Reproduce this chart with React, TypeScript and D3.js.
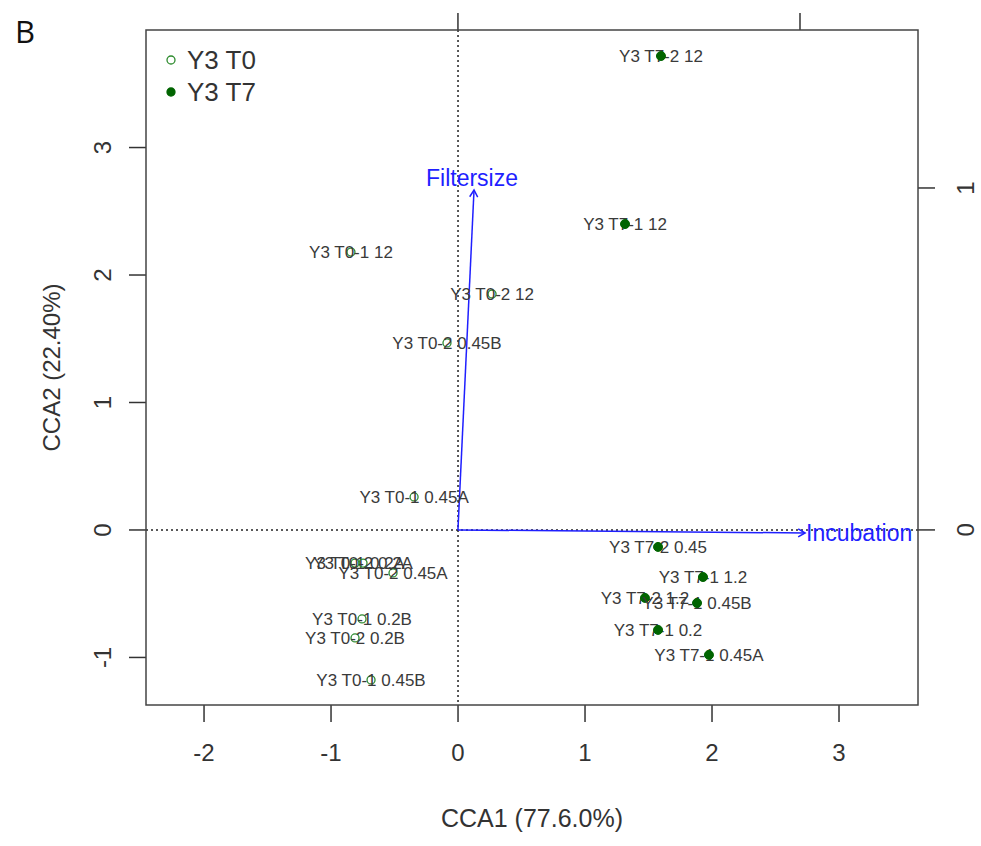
import React from "react";
import * as d3 from "d3";

const W = 981;
const H = 846;

// Sample scores (CCA1, CCA2)
const t0Labels = [
  "Y3 T0-1 12", "Y3 T0-2 12", "Y3 T0-2 0.45B", "Y3 T0-1 0.45A", "Y3 T0-1 0.2A",
  "Y3 T0-2 0.2A", "Y3 T0-2 0.45A", "Y3 T0-1 0.2B", "Y3 T0-2 0.2B", "Y3 T0-1 0.45B",
];
const t0X = [-0.843, 0.268, -0.087, -0.346, -0.811, -0.748, -0.512, -0.756, -0.811, -0.685];
const t0Y = [2.18, 1.851, 1.467, 0.259, -0.26, -0.26, -0.337, -0.698, -0.847, -1.176];

const t7Labels = [
  "Y3 T7-2 12", "Y3 T7-1 12", "Y3 T7-2 0.45", "Y3 T7-1 1.2", "Y3 T7-2 1.2",
  "Y3 T7-1 0.45B", "Y3 T7-1 0.2", "Y3 T7-1 0.45A",
];
const t7X = [1.598, 1.315, 1.575, 1.929, 1.472, 1.882, 1.575, 1.976];
const t7Y = [3.718, 2.4, -0.133, -0.369, -0.533, -0.573, -0.784, -0.98];

// Biplot arrows (right/top axis units)
const envNames = ["Filtersize", "Incubation"];
const envX = [0.047, 1.015];
const envY = [0.994, -0.009];

const xTicks = [-2, -1, 0, 1, 2, 3];
const yTicks = [-1, 0, 1, 2, 3];
const topTicks = [0, 1];
const rightTicks = [0, 1];

const legendLabels = ["Y3 T0", "Y3 T7"];

const PL = 146, PR = 918, PT = 30, PB = 705;

export default function App() {
  const x = d3.scaleLinear().domain([-2.457, 3.622]).range([PL, PR]);
  const y = d3.scaleLinear().domain([-1.373, 3.922]).range([PB, PT]);
  const xr = d3.scaleLinear().domain([-0.912, 1.345]).range([PL, PR]);
  const yr = d3.scaleLinear().domain([-0.512, 1.462]).range([PB, PT]);

  const font = "'Liberation Sans', Arial, sans-serif";
  const textCol = "#333";
  const labelCol = "#3a3a3a";
  const darkGreen = "#006400";
  const openGreen = "#2e8b2e";
  const blue = "#1f1fff";

  const arrowHead = (x0: number, y0: number, x1: number, y1: number) => {
    const ang = Math.atan2(y1 - y0, x1 - x0);
    const len = 8;
    const a1 = ang + Math.PI - Math.PI / 6;
    const a2 = ang + Math.PI + Math.PI / 6;
    return `M${x1 + len * Math.cos(a1)},${y1 + len * Math.sin(a1)}L${x1},${y1}L${x1 + len * Math.cos(a2)},${y1 + len * Math.sin(a2)}`;
  };

  return (
    <svg width={W} height={H} style={{ position: "absolute", left: 0, top: 0, background: "#fff" }}>
      <rect x={0} y={0} width={W} height={H} fill="#fff" />
      <text x={15} y={43} fontFamily="'Open Sans', sans-serif" fontWeight={500} fontSize={31} fill="#111">B</text>

      {/* zero lines */}
      <line x1={x(0)} x2={x(0)} y1={PT} y2={PB} stroke="#222" strokeWidth={1.5} strokeDasharray="2,3" />
      <line x1={PL} x2={PR} y1={y(0)} y2={y(0)} stroke="#222" strokeWidth={1.5} strokeDasharray="2,3" />

      {/* bottom axis */}
      {xTicks.map((t) => (
        <g key={"xt" + t}>
          <line x1={x(t)} x2={x(t)} y1={PB} y2={PB + 17} stroke="#333" strokeWidth={1.5} />
          <text x={x(t)} y={PB + 56} textAnchor="middle" fontFamily={font} fontSize={24} fill={textCol}>{t}</text>
        </g>
      ))}
      {/* left axis */}
      {yTicks.map((t) => (
        <g key={"yt" + t}>
          <line x1={PL} x2={PL - 17} y1={y(t)} y2={y(t)} stroke="#333" strokeWidth={1.5} />
          <text transform={`translate(${PL - 35},${y(t)}) rotate(-90)`} textAnchor="middle" fontFamily={font} fontSize={24} fill={textCol}>{t}</text>
        </g>
      ))}
      {/* top axis */}
      {topTicks.map((t) => (
        <g key={"tt" + t}>
          <line x1={xr(t)} x2={xr(t)} y1={PT} y2={PT - 17} stroke="#333" strokeWidth={1.5} />
        </g>
      ))}
      {/* right axis */}
      {rightTicks.map((t) => (
        <g key={"rt" + t}>
          <line x1={PR} x2={PR + 17} y1={yr(t)} y2={yr(t)} stroke="#333" strokeWidth={1.5} />
          <text transform={`translate(${PR + 56},${yr(t)}) rotate(-90)`} textAnchor="middle" fontFamily={font} fontSize={24} fill={textCol}>{t}</text>
        </g>
      ))}

      <text x={(PL + PR) / 2} y={827} textAnchor="middle" fontFamily={font} fontSize={25} fill={textCol}>CCA1 (77.6.0%)</text>
      <text transform={`translate(60,${(PT + PB) / 2}) rotate(-90)`} textAnchor="middle" fontFamily={font} fontSize={24} fill={textCol}>CCA2 (22.40%)</text>

      {/* arrows */}
      {envNames.map((n, i) => {
        const x1 = xr(envX[i]), y1 = yr(envY[i]);
        const x0 = xr(0), y0 = yr(0);
        return (
          <g key={n}>
            <line x1={x0} y1={y0} x2={x1} y2={y1} stroke={blue} strokeWidth={1.5} />
            <path d={arrowHead(x0, y0, x1, y1)} fill="none" stroke={blue} strokeWidth={1.5} />
            {i === 0 ? (
              <text x={x1 - 2} y={y1 - 4} textAnchor="middle" fontFamily={font} fontSize={23} fill={blue}>{n}</text>
            ) : (
              <text x={x1 + 1} y={y1 + 8} textAnchor="start" fontFamily={font} fontSize={23} fill={blue}>{n}</text>
            )}
          </g>
        );
      })}

      {/* T0 points */}
      {t0Labels.map((l, i) => (
        <g key={l}>
          <circle cx={x(t0X[i])} cy={y(t0Y[i])} r={4} fill="none" stroke={openGreen} strokeWidth={1.3} />
          <text x={x(t0X[i])} y={y(t0Y[i]) + 6} textAnchor="middle" fontFamily={font} fontSize={17} fill={labelCol}>{l}</text>
        </g>
      ))}
      {/* T7 points */}
      {t7Labels.map((l, i) => (
        <g key={l}>
          <text x={x(t7X[i])} y={y(t7Y[i]) + 6} textAnchor="middle" fontFamily={font} fontSize={17} fill={labelCol}>{l}</text>
          <circle cx={x(t7X[i])} cy={y(t7Y[i])} r={4.5} fill={darkGreen} stroke={darkGreen} />
        </g>
      ))}

      {/* legend */}
      {legendLabels.map((l, i) => (
        <g key={l}>
          <circle cx={171} cy={60 + i * 32} r={4} fill={i === 0 ? "none" : darkGreen} stroke={i === 0 ? openGreen : darkGreen} strokeWidth={1.3} />
          <text x={187} y={60 + i * 32 + 9} fontFamily={font} fontSize={26} fill={textCol}>{l}</text>
        </g>
      ))}

      {/* box */}
      <rect x={PL} y={PT} width={PR - PL} height={PB - PT} fill="none" stroke="#444" strokeWidth={1.5} />
    </svg>
  );
}
